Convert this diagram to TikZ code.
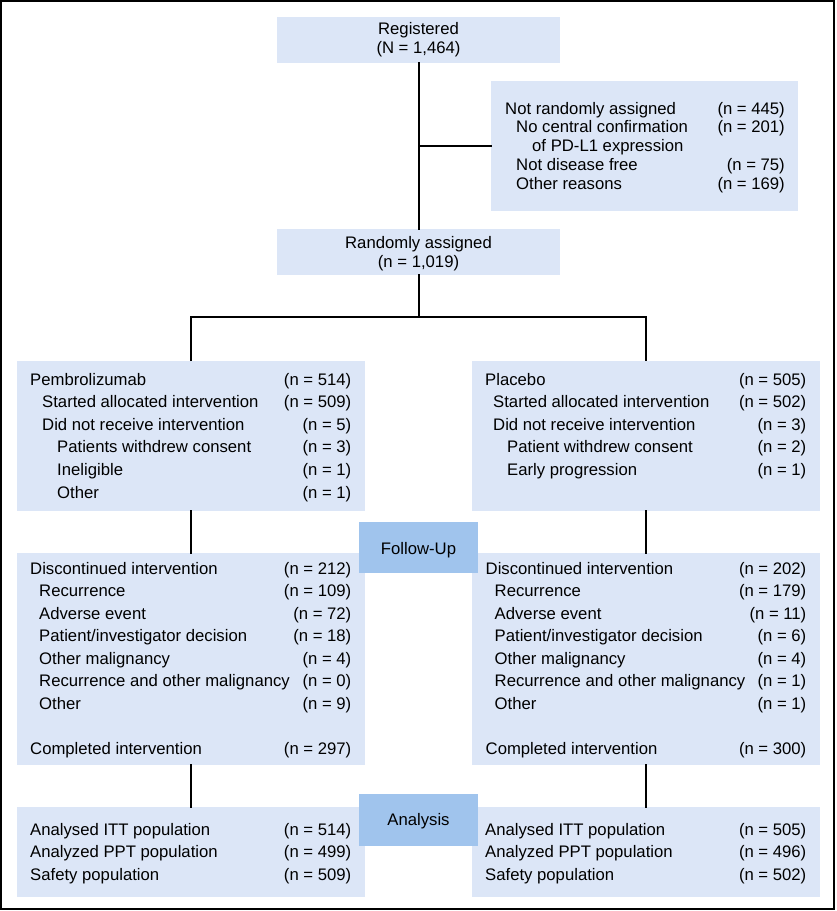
\documentclass[tikz,border=0pt]{standalone}
\usepackage{fontspec}
\setmainfont{Liberation Sans}
\definecolor{boxfill}{RGB}{220,230,247}
\definecolor{hdrfill}{RGB}{160,196,237}
\begin{document}
\begin{tikzpicture}[x=1pt,y=-1pt,
  fnt/.style={font=\fontsize{16.7}{20}\selectfont},
  box/.style={fill=boxfill, draw=none, inner sep=0pt, outer sep=0pt, anchor=north west},
  hdr/.style={fill=hdrfill, draw=none, inner sep=0pt, outer sep=0pt, anchor=north west},
  txt/.style={fnt, anchor=base west, inner sep=0pt},
  num/.style={fnt, anchor=base east, inner sep=0pt},
  ctr/.style={fnt, anchor=base, inner sep=0pt},
  conn/.style={line width=2pt, line cap=rect},
  frame/.style={line width=1.6pt}]
\useasboundingbox (0,0) rectangle (837,911);
\draw[frame] (1,1) rectangle (834,909);

% boxes
\node[box, minimum width=283pt, minimum height=46pt] (reg) at (277,17) {};
\node[box, minimum width=307pt, minimum height=130pt] (notr) at (491,81) {};
\node[box, minimum width=283pt, minimum height=46pt] (rand) at (277,229) {};
\node[box, minimum width=348pt, minimum height=150pt] (pem) at (17,361) {};
\node[box, minimum width=348pt, minimum height=150pt] (pla) at (472,361) {};
\node[box, minimum width=348pt, minimum height=212pt] (discL) at (17,553) {};
\node[box, minimum width=348pt, minimum height=212pt] (discR) at (472,553) {};
\node[box, minimum width=348pt, minimum height=90pt] (anaL) at (17,807) {};
\node[box, minimum width=348pt, minimum height=90pt] (anaR) at (472,807) {};
\node[hdr, minimum width=119pt, minimum height=51pt] (fu) at (359,522) {};
\node[hdr, minimum width=119pt, minimum height=52pt] (an) at (359,794) {};

% connectors
\coordinate (split) at (418.5,317);
\draw[conn] (reg.south) -- (rand.north);
\draw[conn] (reg.south |- notr.west) -- (notr.west);
\draw[conn] (rand.south) -- (split);
\draw[conn, line cap=butt] (pem.north) |- (split) -| (pla.north);
\draw[conn] (pem.south) -- (discL.north);
\draw[conn] (pla.south) -- (discR.north);
\draw[conn] (discL.south) -- (anaL.north);
\draw[conn] (discR.south) -- (anaR.north);

% redraw header boxes on top
\node[hdr, minimum width=119pt, minimum height=51pt] (fu2) at (359,522) {};
\node[hdr, minimum width=119pt, minimum height=52pt] (an2) at (359,794) {};
\node[ctr] (fut) at (418.5,554) {Follow-Up};
\node[ctr] (ant) at (418.5,825) {Analysis};

% centered texts
\node[ctr] (reg1) at (418.5,34.5) {Registered};
\node[ctr] (reg2) at (418.5,53.5) {(N = 1,464)};
\node[ctr] (rand1) at (418.5,248.5) {Randomly assigned};
\node[ctr] (rand2) at (418.5,267) {(n = 1,019)};

% not randomly assigned
\foreach \dx/\lab/\num [count=\i from 0] in {
  0/{Not randomly assigned}/{(n = 445)},
  11/{No central confirmation}/{(n = 201)},
  27/{of PD-L1 expression}/{},
  11/{Not disease free}/{(n = 75)},
  11/{Other reasons}/{(n = 169)}} {
  \node[txt] (nrL\i) at ({505+\dx},{114+18.75*\i}) {\lab};
  \node[num] (nrN\i) at (785,{114+18.75*\i}) {\num};
}

% pembrolizumab
\foreach \dx/\lab/\num [count=\i from 0] in {
  0/{Pembrolizumab}/{(n = 514)},
  12/{Started allocated intervention}/{(n = 509)},
  12/{Did not receive intervention}/{(n = 5)},
  27/{Patients withdrew consent}/{(n = 3)},
  27/{Ineligible}/{(n = 1)},
  27/{Other}/{(n = 1)}} {
  \node[txt] (pmL\i) at ({30+\dx},{385+22.6*\i}) {\lab};
  \node[num] (pmN\i) at (351.5,{385+22.6*\i}) {\num};
}

% placebo
\foreach \dx/\lab/\num [count=\i from 0] in {
  0/{Placebo}/{(n = 505)},
  8/{Started allocated intervention}/{(n = 502)},
  8/{Did not receive intervention}/{(n = 3)},
  22/{Patient withdrew consent}/{(n = 2)},
  22/{Early progression}/{(n = 1)}} {
  \node[txt] (plL\i) at ({485+\dx},{385+22.6*\i}) {\lab};
  \node[num] (plN\i) at (806.5,{385+22.6*\i}) {\num};
}

% discontinued left
\foreach \dx/\lab/\num [count=\i from 0] in {
  0/{Discontinued intervention}/{(n = 212)},
  9/{Recurrence}/{(n = 109)},
  9/{Adverse event}/{(n = 72)},
  9/{Patient/investigator decision}/{(n = 18)},
  9/{Other malignancy}/{(n = 4)},
  9/{Recurrence and other malignancy}/{(n = 0)},
  9/{Other}/{(n = 9)}} {
  \node[txt] (dlL\i) at ({30+\dx},{574.3+22.5*\i}) {\lab};
  \node[num] (dlN\i) at (351.5,{574.3+22.5*\i}) {\num};
}
\node[txt] (dlL8) at (30,754.3) {Completed intervention};
\node[num] (dlN8) at (351.5,754.3) {(n = 297)};

% discontinued right
\foreach \dx/\lab/\num [count=\i from 0] in {
  0/{Discontinued intervention}/{(n = 202)},
  9/{Recurrence}/{(n = 179)},
  9/{Adverse event}/{(n = 11)},
  9/{Patient/investigator decision}/{(n = 6)},
  9/{Other malignancy}/{(n = 4)},
  9/{Recurrence and other malignancy}/{(n = 1)},
  9/{Other}/{(n = 1)}} {
  \node[txt] (drL\i) at ({485.5+\dx},{574.3+22.5*\i}) {\lab};
  \node[num] (drN\i) at (806.5,{574.3+22.5*\i}) {\num};
}
\node[txt] (drL8) at (485.5,754.3) {Completed intervention};
\node[num] (drN8) at (806.5,754.3) {(n = 300)};

% analysis left
\foreach \lab/\num [count=\i from 0] in {
  {Analysed ITT population}/{(n = 514)},
  {Analyzed PPT population}/{(n = 499)},
  {Safety population}/{(n = 509)}} {
  \node[txt] (alL\i) at (30,{835+22.5*\i}) {\lab};
  \node[num] (alN\i) at (351.5,{835+22.5*\i}) {\num};
}
% analysis right
\foreach \lab/\num [count=\i from 0] in {
  {Analysed ITT population}/{(n = 505)},
  {Analyzed PPT population}/{(n = 496)},
  {Safety population}/{(n = 502)}} {
  \node[txt] (arL\i) at (485,{835+22.5*\i}) {\lab};
  \node[num] (arN\i) at (806.5,{835+22.5*\i}) {\num};
}
\end{tikzpicture}
\end{document}
